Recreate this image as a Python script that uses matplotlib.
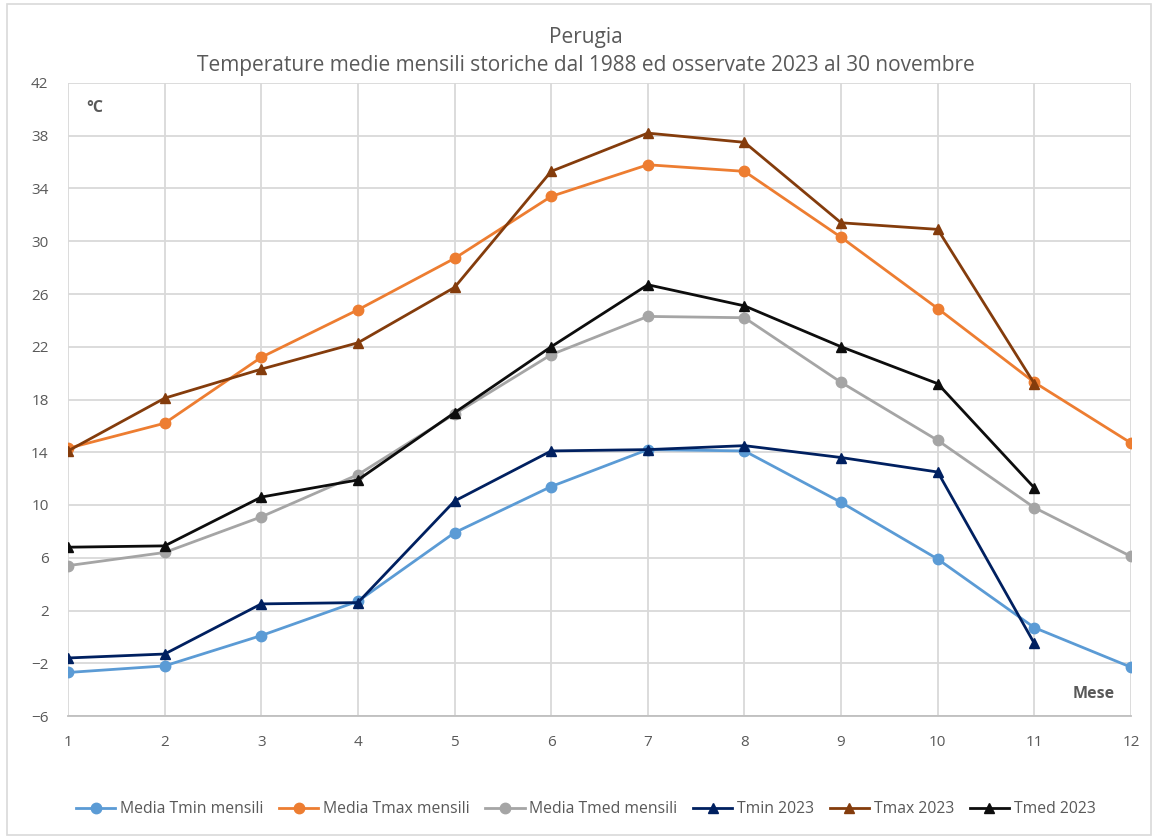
import matplotlib
matplotlib.use("Agg")
import matplotlib.pyplot as plt
from matplotlib.patches import Rectangle

plt.rcParams['font.family'] = ['Open Sans', 'DejaVu Sans']

months = [1, 2, 3, 4, 5, 6, 7, 8, 9, 10, 11, 12]
months_2023 = months[:11]

media_tmin = [-2.7, -2.2, 0.1, 2.7, 7.9, 11.4, 14.2, 14.1, 10.2, 5.9, 0.7, -2.3]
media_tmax = [14.3, 16.2, 21.2, 24.8, 28.7, 33.4, 35.8, 35.3, 30.3, 24.9, 19.3, 14.7]
media_tmed = [5.4, 6.4, 9.1, 12.3, 16.9, 21.4, 24.3, 24.2, 19.3, 14.9, 9.8, 6.1]
tmin_2023 = [-1.6, -1.3, 2.5, 2.6, 10.3, 14.1, 14.2, 14.5, 13.6, 12.5, -0.5]
tmax_2023 = [14.1, 18.1, 20.3, 22.3, 26.5, 35.3, 38.2, 37.5, 31.4, 30.9, 19.2]
tmed_2023 = [6.8, 6.9, 10.6, 11.9, 17.0, 22.0, 26.7, 25.1, 22.0, 19.2, 11.3]

yticks = list(range(-6, 43, 4))

fig = plt.figure(figsize=(11.53, 8.38), dpi=100)
ax = fig.add_axes([68/1153, 1-716/838, (1131-68)/1153, (716-83)/838])

# chart border
fig.patches.append(Rectangle((0.006, 0.004), 0.992, 0.991, transform=fig.transFigure,
                             fill=False, edgecolor='#d9d9d9', linewidth=1.2))

lw = 2.0
ms = 7.5
ax.plot(months, media_tmin, color='#5B9BD5', marker='o', lw=lw, ms=ms, label='Media Tmin mensili')
ax.plot(months, media_tmax, color='#ED7D31', marker='o', lw=lw, ms=ms, label='Media Tmax mensili')
ax.plot(months, media_tmed, color='#A5A5A5', marker='o', lw=lw, ms=ms, label='Media Tmed mensili')
ax.plot(months_2023, tmin_2023, color='#002060', marker='^', lw=lw, ms=ms, label='Tmin 2023')
ax.plot(months_2023, tmax_2023, color='#843C0C', marker='^', lw=lw, ms=ms, label='Tmax 2023')
ax.plot(months_2023, tmed_2023, color='#0D0D0D', marker='^', lw=lw, ms=ms, label='Tmed 2023')

ax.set_xlim(1, 12)
ax.set_ylim(-6, 42)
ax.set_xticks(months)
ax.set_yticks(yticks)
ax.grid(True, color='#d9d9d9', linewidth=1.3)
ax.set_axisbelow(True)
for s in ['top', 'right', 'left']:
    ax.spines[s].set_visible(False)
ax.spines['bottom'].set_color('#bfbfbf')
ax.spines['bottom'].set_linewidth(1.3)
ax.tick_params(length=0, colors='#595959', labelsize=11)
ax.tick_params(axis='x', pad=14)
ax.tick_params(axis='y', pad=14)

ax.text(0.017, 0.96, '°C', transform=ax.transAxes, fontsize=11.5, fontweight='bold',
        color='#595959', va='center', ha='left')
ax.text(0.985, 0.034, 'Mese', transform=ax.transAxes, fontsize=11.5, fontweight='bold',
        color='#595959', va='center', ha='right')

fig.text(0.508, 1-37/838, 'Perugia', ha='center', va='center', fontsize=15, color='#595959')
fig.text(0.508, 1-66/838, 'Temperature medie mensili storiche dal 1988 ed osservate 2023 al 30 novembre',
         ha='center', va='center', fontsize=15, color='#595959')

leg = fig.legend(loc='center', bbox_to_anchor=(0.508, 1-809/838), ncol=6, frameon=False,
                 fontsize=11.3, labelcolor='#595959', handlelength=2.5, columnspacing=1.0,
                 handletextpad=0.3)

fig.savefig('out.png', dpi=100)
